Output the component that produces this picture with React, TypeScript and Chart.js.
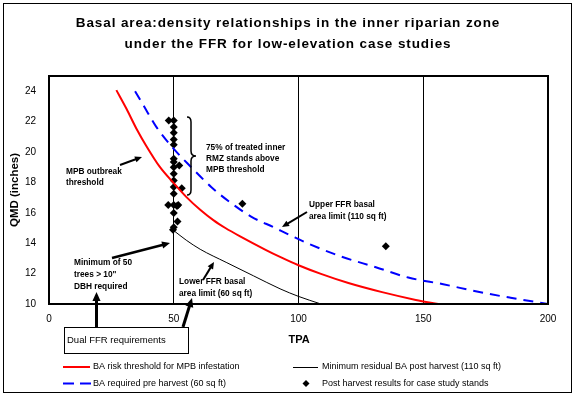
import React, { useEffect, useRef } from 'react';
import { Chart, registerables } from 'chart.js';

Chart.register(...registerables);

const FONT = '"Liberation Sans", Arial, sans-serif';

const titleLines = [
  'Basal area:density relationships in the inner riparian zone',
  'under the FFR for low-elevation case studies',
];
const xTitle = 'TPA';
const yTitle = 'QMD (inches)';
const xTicks = [0, 50, 100, 150, 200];
const yTicks = [10, 12, 14, 16, 18, 20, 22, 24];
const xGridAt = [50, 100, 150];

const seriesLabels = [
  'BA risk threshold for MPB infestation',
  'BA required pre harvest (60 sq ft)',
  'Minimum residual BA post harvest (110 sq ft)',
  'Post harvest results for case study stands',
];

// red: BA risk threshold
const redTPA = [27, 31, 35, 39, 44.5, 50, 55, 60.6, 66, 70.7, 76.6, 87, 92.6, 100, 109, 120, 133.5, 147, 156];
const redQMD = [24.07, 22.86, 21.55, 20.4, 19.0, 17.95, 17.05, 16.2, 15.5, 15.0, 14.45, 13.55, 13.1, 12.55, 11.98, 11.38, 10.78, 10.27, 10.0];

// blue dashed: BA required pre harvest
const blueTPA = [34.5, 39, 43, 50, 57, 65, 72.5, 81, 90, 97, 104, 117, 131, 144, 158, 172, 185, 200];
const blueQMD = [24.0, 22.75, 21.65, 20.2, 19.0, 17.7, 16.7, 15.75, 15.05, 14.5, 13.97, 13.13, 12.42, 11.74, 11.3, 10.8, 10.41, 10.0];

// black thin: minimum residual BA
const blackTPA = [50, 55, 60.6, 71, 82, 92.6, 100, 109];
const blackQMD = [14.83, 14.2, 13.6, 12.74, 11.85, 11.0, 10.5, 10.0];

// post harvest results (diamonds)
const standTPA = [48, 50, 50, 50, 50, 50, 50, 50, 50, 52.2, 50, 50, 50, 53.2, 50, 47.8, 50, 51.8, 51.3, 50, 51.5, 50, 49.7, 77.5, 135];
const standQMD = [22.07, 22.07, 21.65, 21.27, 20.83, 20.48, 19.55, 19.34, 19.0, 19.12, 18.57, 18.13, 17.69, 17.62, 17.25, 16.52, 16.52, 16.52, 16.45, 15.99, 15.42, 15.05, 14.89, 16.6, 13.8];

const zip = (xs: number[], ys: number[]) => xs.map((x, i) => ({ x, y: ys[i] }));

function text(ctx: CanvasRenderingContext2D, s: string, x: number, y: number, font: string, align: CanvasTextAlign = 'left', spacing = '0px', baseline: CanvasTextBaseline = 'middle') {
  ctx.font = font;
  ctx.textAlign = align;
  ctx.textBaseline = baseline;
  (ctx as any).letterSpacing = spacing;
  ctx.fillStyle = '#000';
  ctx.fillText(s, x, y);
  (ctx as any).letterSpacing = '0px';
}

function arrow(ctx: CanvasRenderingContext2D, x1: number, y1: number, x2: number, y2: number, w: number, head: number) {
  const a = Math.atan2(y2 - y1, x2 - x1);
  const bx = x2 - Math.cos(a) * head;
  const by = y2 - Math.sin(a) * head;
  ctx.strokeStyle = '#000';
  ctx.fillStyle = '#000';
  ctx.lineWidth = w;
  ctx.setLineDash([]);
  ctx.beginPath();
  ctx.moveTo(x1, y1);
  ctx.lineTo(bx + Math.cos(a) * 1, by + Math.sin(a) * 1);
  ctx.stroke();
  const hw = head * 0.45;
  ctx.beginPath();
  ctx.moveTo(x2, y2);
  ctx.lineTo(bx - Math.sin(a) * hw, by + Math.cos(a) * hw);
  ctx.lineTo(bx + Math.sin(a) * hw, by - Math.cos(a) * hw);
  ctx.closePath();
  ctx.fill();
}

const decor = {
  id: 'decor',
  afterDraw(chart: any) {
    const ctx: CanvasRenderingContext2D = chart.ctx;
    const ca = chart.chartArea;
    ctx.save();
    ctx.setLineDash([]);
    // outer frame
    ctx.strokeStyle = '#000';
    ctx.lineWidth = 1;
    ctx.strokeRect(3.5, 3.5, 568, 389);
    // plot frame
    ctx.lineWidth = 2;
    ctx.strokeRect(ca.left, ca.top, ca.right - ca.left, ca.bottom - ca.top);

    // title
    text(ctx, titleLines[0], 288, 27, `bold 13.5px ${FONT}`, 'center', '0.9px', 'alphabetic');
    text(ctx, titleLines[1], 288, 48, `bold 13.5px ${FONT}`, 'center', '0.9px', 'alphabetic');

    // axis titles
    text(ctx, xTitle, 299, 340, `bold 11px ${FONT}`, 'center');
    ctx.save();
    ctx.translate(15, 190);
    ctx.rotate(-Math.PI / 2);
    text(ctx, yTitle, 0, 0, `bold 11.5px ${FONT}`, 'center');
    ctx.restore();

    // annotations
    const af = `bold 8.3px ${FONT}`;
    text(ctx, 'MPB outbreak', 66, 171.5, af);
    text(ctx, 'threshold', 66, 183, af);
    arrow(ctx, 120, 165, 142, 157, 2, 7);

    text(ctx, '75% of treated inner', 206, 148, af);
    text(ctx, 'RMZ stands above', 206, 159, af);
    text(ctx, 'MPB threshold', 206, 169.5, af);
    // brace
    ctx.strokeStyle = '#000';
    ctx.lineWidth = 1.5;
    ctx.beginPath();
    ctx.moveTo(187, 117);
    ctx.quadraticCurveTo(191, 117, 191, 122);
    ctx.lineTo(191, 151);
    ctx.quadraticCurveTo(191, 156, 196, 156);
    ctx.quadraticCurveTo(191, 156, 191, 161);
    ctx.lineTo(191, 190);
    ctx.quadraticCurveTo(191, 195, 187, 195);
    ctx.stroke();

    text(ctx, 'Upper FFR basal', 309, 205, af);
    text(ctx, 'area limit (110 sq ft)', 309, 216.5, af);
    arrow(ctx, 307, 212, 282, 227, 2, 7);

    text(ctx, 'Minimum of 50', 74, 263, af);
    text(ctx, 'trees > 10"', 74, 275, af);
    text(ctx, 'DBH required', 74, 286.5, af);
    arrow(ctx, 112, 258, 170, 243, 2.5, 8);

    text(ctx, 'Lower FFR basal', 179, 281.5, af);
    text(ctx, 'area limit (60 sq ft)', 179, 294, af);
    arrow(ctx, 203, 280, 214, 262, 2, 7);

    // box
    ctx.lineWidth = 1;
    ctx.strokeStyle = '#000';
    ctx.strokeRect(64.5, 327.5, 124, 26);
    text(ctx, 'Dual FFR requirements', 67, 340.5, `9.5px ${FONT}`);
    arrow(ctx, 96.5, 327, 96.5, 292, 3, 9);
    arrow(ctx, 183, 327, 192, 298, 3, 9);

    // legend
    const ds = chart.data.datasets;
    const lf = `9px ${FONT}`;
    ctx.lineWidth = ds[0].borderWidth;
    ctx.strokeStyle = ds[0].borderColor;
    ctx.beginPath(); ctx.moveTo(63, 367); ctx.lineTo(90, 367); ctx.stroke();
    text(ctx, ds[0].label, 93, 367, lf);

    ctx.lineWidth = ds[1].borderWidth;
    ctx.strokeStyle = ds[1].borderColor;
    ctx.setLineDash([11, 6]);
    ctx.beginPath(); ctx.moveTo(63, 383.5); ctx.lineTo(91, 383.5); ctx.stroke();
    ctx.setLineDash([]);
    text(ctx, ds[1].label, 93, 383.5, lf);

    ctx.lineWidth = ds[2].borderWidth;
    ctx.strokeStyle = ds[2].borderColor;
    ctx.beginPath(); ctx.moveTo(293, 367.5); ctx.lineTo(318, 367.5); ctx.stroke();
    text(ctx, ds[2].label, 322, 367, lf);

    ctx.fillStyle = ds[3].backgroundColor;
    ctx.beginPath();
    ctx.moveTo(306, 380); ctx.lineTo(309.5, 383.5); ctx.lineTo(306, 387); ctx.lineTo(302.5, 383.5);
    ctx.closePath(); ctx.fill();
    text(ctx, ds[3].label, 322, 383.5, lf);

    ctx.restore();
  },
};

export default function App() {
  const ref = useRef<HTMLCanvasElement>(null);
  useEffect(() => {
    document.body.style.margin = '0';
    if (!ref.current) return;
    const tickFont = { family: FONT, size: 10 };
    const chart = new Chart(ref.current, {
      type: 'scatter',
      data: {
        datasets: [
          {
            label: seriesLabels[0],
            data: zip(redTPA, redQMD),
            showLine: true,
            borderColor: '#FF0000',
            backgroundColor: '#FF0000',
            borderWidth: 2,
            pointRadius: 0,
            cubicInterpolationMode: 'monotone',
          } as any,
          {
            label: seriesLabels[1],
            data: zip(blueTPA, blueQMD),
            showLine: true,
            borderColor: '#0000FF',
            backgroundColor: '#0000FF',
            borderWidth: 2,
            borderDash: [10, 7],
            pointRadius: 0,
            cubicInterpolationMode: 'monotone',
          } as any,
          {
            label: seriesLabels[2],
            data: zip(blackTPA, blackQMD),
            showLine: true,
            borderColor: '#000000',
            backgroundColor: '#000000',
            borderWidth: 1,
            pointRadius: 0,
            cubicInterpolationMode: 'monotone',
          } as any,
          {
            label: seriesLabels[3],
            data: zip(standTPA, standQMD),
            showLine: false,
            pointStyle: 'rectRot',
            pointRadius: 4,
            borderWidth: 0,
            backgroundColor: '#000000',
            borderColor: '#000000',
          } as any,
        ],
      },
      options: {
        responsive: false,
        devicePixelRatio: 1,
        animation: false,
        events: [],
        layout: { padding: { top: 76, right: 27, left: 0, bottom: 0 } },
        plugins: {
          legend: { display: false },
          title: { display: false },
          tooltip: { enabled: false },
        },
        scales: {
          x: {
            type: 'linear',
            min: 0,
            max: 200,
            afterBuildTicks: (s: any) => { s.ticks = xTicks.map((v) => ({ value: v })); },
            afterFit: (s: any) => { s.height = 91; },
            ticks: { font: tickFont, color: '#000', padding: 9, maxRotation: 0 },
            grid: {
              drawTicks: false,
              tickLength: 0,
              lineWidth: 1,
              color: (c: any) => (c.tick && xGridAt.includes(c.tick.value) ? '#000' : 'rgba(0,0,0,0)'),
            },
            border: { display: false },
          },
          y: {
            type: 'linear',
            min: 10,
            max: 25,
            afterBuildTicks: (s: any) => { s.ticks = yTicks.map((v) => ({ value: v })); },
            afterFit: (s: any) => { s.width = 49; },
            ticks: { font: tickFont, color: '#000', padding: 13 },
            grid: { display: false, drawTicks: false, tickLength: 0 },
            border: { display: false },
          },
        },
      } as any,
      plugins: [decor],
    });
    return () => chart.destroy();
  }, []);
  return (
    <div style={{ width: 575, height: 395, background: '#fff' }}>
      <canvas ref={ref} width={575} height={395} style={{ display: 'block' }} />
    </div>
  );
}
